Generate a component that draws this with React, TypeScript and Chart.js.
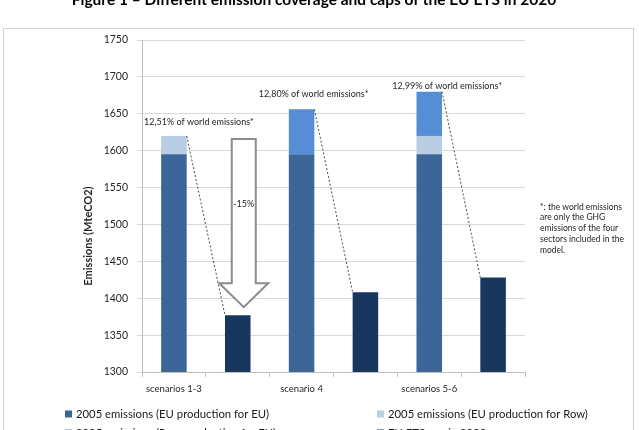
import React, { useEffect, useRef } from 'react';
import { Chart, registerables } from 'chart.js';

Chart.register(...registerables);

const categories = ['scenarios 1-3', '', 'scenario 4', '', 'scenarios 5-6', ''];
const euForEu = [1595, null, 1595, null, 1595, null];
const euForRow = [25, null, null, null, 25, null];
const rowForEu = [null, null, 61, null, 60, null];
const etsCap = [null, 1377, null, 1408, null, 1428];

const seriesNames = [
  '2005 emissions (EU production for EU)',
  '2005 emissions (EU production for Row)',
  '2005 emissions (Row production for EU)',
  'EU ETS cap in 2020',
];
const shareLabels = ['12,51% of world emissions*', '12,80% of world emissions*', '12,99% of world emissions*'];
const shareBarIndex = [0, 2, 4];
const reductionLabel = '-15%';
const titleText = 'Figure 1 \u2013 Different emission coverage and caps of the EU ETS in 2020';
const yAxisTitle = 'Emissions (MteCO2)';
const footnoteLines = [
  '*: the world emissions',
  'are only the GHG',
  'emissions of the four',
  'sectors included in the',
  'model.',
];
const yMin = 1300;
const yMax = 1750;
const yStep = 50;

const colors = ['#3C6598', '#B9CDE5', '#558ED5', '#18375E'];
const FONT = 'Lato, "Liberation Sans", sans-serif';

const overlayPlugin = {
  id: 'overlay',
  afterDatasetsDraw(chart: any) {
    const ctx = chart.ctx as CanvasRenderingContext2D;
    const ys = chart.scales.y;
    const m0 = chart.getDatasetMeta(0);
    const m3 = chart.getDatasetMeta(3);
    const labelOffsets = [
      [25, -14],
      [12, -15],
      [18, -6],
    ];
    ctx.save();
    shareBarIndex.forEach((idx, k) => {
      const total = (euForEu[idx] || 0) + (euForRow[idx] || 0) + (rowForEu[idx] || 0);
      const bar = m0.data[idx];
      const cap = m3.data[idx + 1];
      const topY = ys.getPixelForValue(total);
      const right = bar.x + bar.width / 2;
      const capLeft = cap.x - cap.width / 2;
      const capTop = cap.y;
      ctx.strokeStyle = '#4a4a4a';
      ctx.lineWidth = 1;
      ctx.setLineDash([2, 2]);
      ctx.beginPath();
      ctx.moveTo(right, topY);
      ctx.lineTo(capLeft, capTop);
      ctx.stroke();
      ctx.setLineDash([]);
      ctx.fillStyle = '#262626';
      ctx.font = '9px ' + FONT;
      ctx.textAlign = 'center';
      ctx.textBaseline = 'middle';
      ctx.fillText(shareLabels[k], bar.x + labelOffsets[k][0], topY + labelOffsets[k][1]);
    });

    const firstTotal = (euForEu[0] || 0) + (euForRow[0] || 0);
    const cap1 = m3.data[1];
    const cx = cap1.x + 6;
    const top = ys.getPixelForValue(firstTotal) + 3;
    const tip = cap1.y - 8;
    const headBase = tip - 24;
    const sw = 12;
    const hw = 24.5;
    ctx.beginPath();
    ctx.moveTo(cx - sw, top);
    ctx.lineTo(cx + sw, top);
    ctx.lineTo(cx + sw, headBase);
    ctx.lineTo(cx + hw, headBase);
    ctx.lineTo(cx, tip);
    ctx.lineTo(cx - hw, headBase);
    ctx.lineTo(cx - sw, headBase);
    ctx.closePath();
    ctx.fillStyle = '#ffffff';
    ctx.fill();
    ctx.strokeStyle = '#8C8C8C';
    ctx.lineWidth = 2;
    ctx.stroke();
    ctx.fillStyle = '#262626';
    ctx.font = '9px ' + FONT;
    ctx.textAlign = 'center';
    ctx.textBaseline = 'middle';
    ctx.fillText(reductionLabel, cx, (top + headBase) / 2 - 7);
    ctx.restore();
  },
  afterDraw(chart: any) {
    const ctx = chart.ctx as CanvasRenderingContext2D;
    ctx.save();
    ctx.strokeStyle = '#D0D0D0';
    ctx.lineWidth = 1;
    ctx.strokeRect(3.5, 28.5, 630, 460);
    ctx.fillStyle = '#000';
    ctx.font = 'bold 15.5px ' + FONT;
    ctx.textAlign = 'center';
    ctx.textBaseline = 'alphabetic';
    ctx.fillText(titleText, 314, 5);
    ctx.save();
    ctx.translate(88, 236);
    ctx.rotate(-Math.PI / 2);
    ctx.font = 'bold 11px ' + FONT;
    ctx.fillStyle = '#262626';
    ctx.textBaseline = 'middle';
    ctx.fillText(yAxisTitle, 0, 0);
    ctx.restore();
    ctx.font = '8.5px ' + FONT;
    ctx.fillStyle = '#262626';
    ctx.textAlign = 'left';
    ctx.textBaseline = 'middle';
    footnoteLines.forEach((l, i) => ctx.fillText(l, 540, 207 + i * 10.75));
    const lx = [65, 377];
    const ly = [414, 433];
    ctx.font = '11.3px ' + FONT;
    seriesNames.forEach((name, i) => {
      const x = lx[i % 2];
      const y = ly[Math.floor(i / 2)];
      ctx.fillStyle = colors[i];
      ctx.fillRect(x, y - 3.5, 7, 7);
      ctx.fillStyle = '#1a1a1a';
      ctx.fillText(name, x + 11, y);
    });
    ctx.restore();
  },
};

export default function App() {
  const ref = useRef<HTMLCanvasElement | null>(null);
  useEffect(() => {
    if (!ref.current) return;
    const chart = new Chart(ref.current, {
      type: 'bar',
      data: {
        labels: categories,
        datasets: [
          { label: seriesNames[0], data: euForEu, backgroundColor: colors[0] },
          { label: seriesNames[1], data: euForRow, backgroundColor: colors[1] },
          { label: seriesNames[2], data: rowForEu, backgroundColor: colors[2] },
          { label: seriesNames[3], data: etsCap, backgroundColor: colors[3] },
        ],
      },
      options: {
        responsive: false,
        animation: false,
        devicePixelRatio: 1,
        layout: { padding: { left: 0, top: 40, right: 114, bottom: 0 } },
        datasets: { bar: { categoryPercentage: 1, barPercentage: 0.4, borderWidth: 0 } },
        plugins: { legend: { display: false }, tooltip: { enabled: false }, title: { display: false } },
        scales: {
          x: {
            stacked: true,
            grid: { offset: true, drawOnChartArea: false, tickLength: 5, color: '#BFBFBF' },
            border: { color: '#BFBFBF' },
            ticks: { autoSkip: false, maxRotation: 0, padding: 6, color: '#262626', font: { family: FONT, size: 9.5 } },
            afterFit: (a: any) => { a.height = 58; },
          },
          y: {
            stacked: true,
            min: yMin,
            max: yMax,
            ticks: {
              stepSize: yStep,
              padding: 9,
              color: '#262626',
              font: { family: FONT, size: 10.5 },
              callback: (v: any) => String(v),
            },
            grid: { color: '#D9D9D9', tickLength: 5 },
            border: { color: '#BFBFBF' },
            afterFit: (a: any) => { a.width = 142; },
          },
        },
      },
      plugins: [overlayPlugin],
    } as any);
    return () => chart.destroy();
  }, []);
  return (
    <div style={{ position: 'absolute', left: 0, top: 0, width: 639, height: 430, overflow: 'hidden', background: '#fff' }}>
      <canvas ref={ref} width={639} height={430} style={{ display: 'block', width: 639, height: 430 }} />
    </div>
  );
}
